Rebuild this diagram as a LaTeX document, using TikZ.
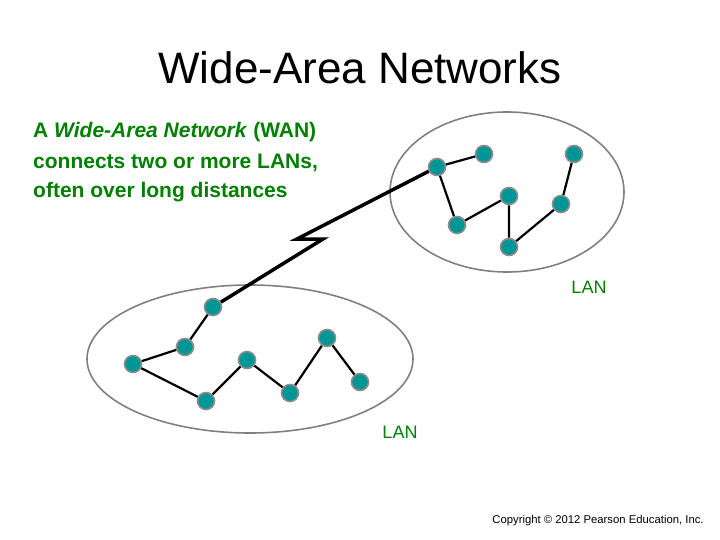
\documentclass[tikz,border=0pt]{standalone}
\usepackage{fontspec}
\setmainfont{Liberation Sans}
\begin{document}
\begin{tikzpicture}[x=1pt,y=-1pt,
  host/.style={circle,draw=gray!90,line width=1.6pt,minimum size=17pt,inner sep=0pt},
  link/.style={line width=2.2pt,black},
  lanring/.style={draw=gray,line width=1.6pt},
  greentxt/.style={text=green!50!black,anchor=west,inner sep=0pt,font=\fontsize{21}{24}\selectfont\bfseries},
  lanlabel/.style={text=green!50!black,inner sep=0pt,font=\fontsize{18}{20}\selectfont}]
\useasboundingbox (0,0) rectangle (720,540);
\definecolor{hostfill}{RGB}{0,150,150}
% title
\node[font=\fontsize{44}{50}\selectfont,inner sep=0pt] (title) at (360,68) {Wide-Area Networks};
% text
\node[greentxt] (t1) at (33,132) {A \textit{Wide-Area Network} (WAN)};
\node[greentxt] (t2) at (33,163) {connects two or more LANs,};
\node[greentxt] (t3) at (33,192) {often over long distances};
% ellipses
\draw[lanring] (507,192) ellipse [x radius=117,y radius=80];
\draw[lanring] (250,359) ellipse [x radius=163,y radius=74];
% upper LAN hosts
\begin{scope}[every node/.style={host,fill=hostfill}]
\node (A) at (437,167) {};
\node (B) at (484,154) {};
\node (C) at (574,154) {};
\node (D) at (457,225) {};
\node (E) at (509,196) {};
\node (F) at (561,204) {};
\node (G) at (509,247) {};
% lower LAN hosts
\node (a) at (213,307) {};
\node (b) at (185,347) {};
\node (c) at (133,364) {};
\node (d) at (206,401) {};
\node (e) at (247,360) {};
\node (f) at (290,393) {};
\node (g) at (327,338) {};
\node (h) at (360,382) {};
\end{scope}
% WAN link
\coordinate (zl) at (297,239);
\coordinate (zr) at (323,239);
\draw[line width=3.5pt,line join=miter] (a) -- (zr) -- (zl) -- (A);
% links
\draw[link] (A) -- (B) (A) -- (D) (D) -- (E) (E) -- (G) (G) -- (F) (F) -- (C);
\draw[link] (a) -- (b) (b) -- (c) (c) -- (d) (d) -- (e) (e) -- (f) (f) -- (g) (g) -- (h);
% LAN labels
\node[lanlabel] (L1) at (589,287) {LAN};
\node[lanlabel] (L2) at (400,432) {LAN};
% copyright
\node[font=\fontsize{11.3}{13}\selectfont,inner sep=0pt] (copy) at (598,521) {Copyright \textcopyright{} 2012 Pearson Education, Inc.};
\end{tikzpicture}
\end{document}
